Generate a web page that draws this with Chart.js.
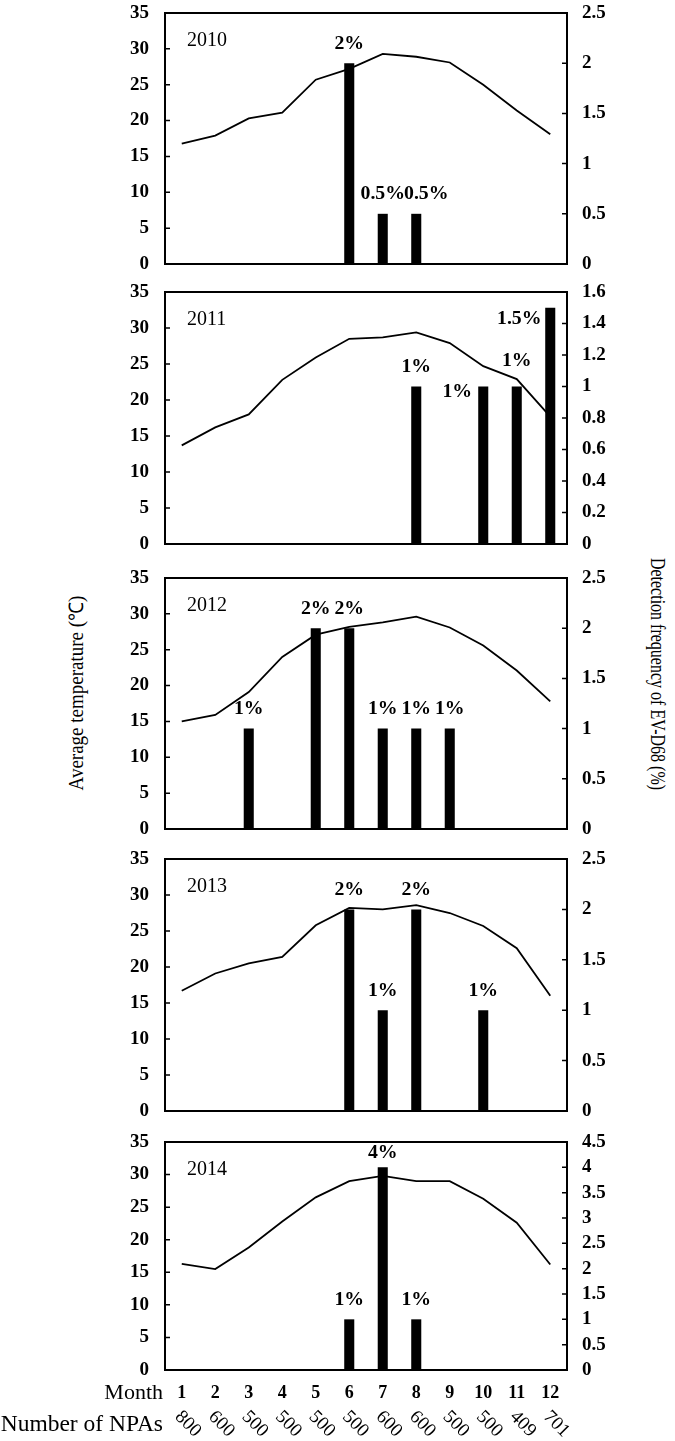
<!DOCTYPE html>
<html>
<head>
<meta charset="utf-8">
<script src="https://cdn.jsdelivr.net/npm/chart.js@4.4.0/dist/chart.umd.min.js"></script>
<style>
  html,body{margin:0;padding:0;background:#fff;}
  #wrap{position:relative;width:675px;height:1441px;background:#fff;overflow:hidden;}
  canvas{position:absolute;left:0;}
  .yt{position:absolute;white-space:nowrap;font-family:"Liberation Serif","Times New Roman",serif;font-size:20px;color:#000;}
</style>
</head>
<body>
<div id="wrap">
  <div class="yt" id="tl" style="left:75px;top:693px;transform:translate(-50%,-50%) rotate(-90deg) scaleX(0.95);">Average temperature (℃)</div>
  <div class="yt" id="tr" style="left:657px;top:674px;transform:translate(-50%,-50%) rotate(90deg) scaleX(0.8);">Detection frequency of EV-D68 (%)</div>
</div>
<script>
// ---------------- data ----------------
const months = ['1','2','3','4','5','6','7','8','9','10','11','12'];
const npas = ['800','600','500','500','500','500','600','600','500','500','409','701'];
const years = ['2010','2011','2012','2013','2014'];
const temp2010 = [16.8,17.9,20.3,21.1,25.7,27.2,29.3,28.9,28.1,25.0,21.4,18.1];
const temp2011 = [13.7,16.2,18.0,22.8,25.9,28.5,28.7,29.4,27.9,24.7,22.9,17.7];
const temp2012 = [15.0,15.9,19.1,24.0,27.1,28.2,28.8,29.6,28.1,25.6,22.1,17.8];
const temp2013 = [16.7,19.1,20.5,21.4,25.8,28.2,28.0,28.6,27.5,25.7,22.6,16.0];
const temp2014 = [16.3,15.5,18.8,22.8,26.5,29.0,29.8,29.0,29.0,26.3,22.6,16.2];
const det2010 = [null,null,null,null,null,2,0.5,0.5,null,null,null,null];
const det2011 = [null,null,null,null,null,null,null,1,null,1,1,1.5];
const det2012 = [null,null,1,null,2,2,1,1,1,null,null,null];
const det2013 = [null,null,null,null,null,2,1,2,null,1,null,null];
const det2014 = [null,null,null,null,null,1,4,1,null,null,null,null];
const tempMax = 35, tempStep = 5;
const detMax = [2.5,1.6,2.5,2.5,4.5];
const detStep = [0.5,0.2,0.5,0.5,0.5];

const temps = [temp2010,temp2011,temp2012,temp2013,temp2014];
const dets = [det2010,det2011,det2012,det2013,det2014];

// ---------------- layout (not data) ----------------
const plotTops = [13,292,578,859,1142];
const plotBottoms = [264,544,829,1111,1370];
const plotLeft = 165, plotRight = 567, W = 675, PAD = 32;
// label nudges [dx, dy] per panel, keyed by month index
const nudges = [{7:[10,0]}, {9:[-26,25],10:[0,-6],11:[-31,31]}, {}, {}, {6:[0,5]}];

const FONT = '"Liberation Serif","Times New Roman",serif';
Chart.defaults.font.family = FONT;
Chart.defaults.color = '#000';

function sText(ctx, s, x, y, sx){
  ctx.save(); ctx.translate(x, y); ctx.scale(sx, 1); ctx.fillText(s, 0, 0); ctx.restore();
}

const decor = {
  id:'decor',
  afterDatasetsDraw(chart, args, opts){
    const {ctx, chartArea:a, scales} = chart;
    ctx.save();
    ctx.strokeStyle = '#000';
    ctx.fillStyle = '#000';
    // inward ticks
    ctx.lineWidth = 1.5;
    ctx.beginPath();
    scales.y.ticks.forEach(t=>{const py=scales.y.getPixelForValue(t.value); ctx.moveTo(a.left,py); ctx.lineTo(a.left+5,py);});
    scales.y1.ticks.forEach(t=>{const py=scales.y1.getPixelForValue(t.value); ctx.moveTo(a.right-5,py); ctx.lineTo(a.right,py);});
    ctx.stroke();
    // frame
    ctx.lineWidth = 2;
    ctx.strokeRect(a.left, a.top, a.right-a.left, a.bottom-a.top);
    // year
    ctx.font = '20px ' + FONT;
    ctx.textAlign = 'left'; ctx.textBaseline = 'middle';
    ctx.fillText(opts.year, a.left+22, a.top+28);
    // percent labels
    ctx.font = 'bold 18px ' + FONT;
    ctx.textAlign = 'center';
    const meta = chart.getDatasetMeta(1);
    meta.data.forEach((bar,i)=>{
      const v = opts.det[i];
      if(v==null) return;
      const n = opts.nudge[i] || [0,0];
      sText(ctx, v + '%', bar.x + n[0], bar.y - 19 + n[1], 1.1);
    });
    if(opts.last){
      const xs = scales.x;
      ctx.font = 'bold 18px ' + FONT;
      ctx.textAlign = 'center'; ctx.textBaseline = 'middle';
      months.forEach((m,i)=>ctx.fillText(m, xs.getPixelForValue(i), a.bottom+23));
      ctx.font = '19px ' + FONT;
      ctx.textAlign = 'left';
      npas.forEach((s,i)=>{
        ctx.save();
        ctx.translate(xs.getPixelForValue(i)-4, a.bottom+44);
        ctx.rotate(Math.PI/4);
        ctx.fillText(s, 0, 0);
        ctx.restore();
      });
      ctx.textAlign = 'right';
      ctx.font = '22px ' + FONT;
      ctx.fillText('Month', a.left-2, a.bottom+23);
      ctx.font = '23.5px ' + FONT;
      ctx.fillText('Number of NPAs', a.left-2, a.bottom+55);
    }
    ctx.restore();
  }
};

const wrap = document.getElementById('wrap');
years.forEach((yr, p)=>{
  const last = p === years.length-1;
  const top = plotTops[p] - PAD;
  const bottomPad = last ? (1441 - plotBottoms[p]) : PAD;
  const h = (plotBottoms[p] - plotTops[p]) + PAD + bottomPad;
  const cv = document.createElement('canvas');
  cv.width = W; cv.height = h;
  cv.style.top = top + 'px';
  cv.style.width = W + 'px'; cv.style.height = h + 'px';
  wrap.appendChild(cv);
  new Chart(cv, {
    data:{
      labels: months,
      datasets:[
        {type:'line', data: temps[p], yAxisID:'y', borderColor:'#000', borderWidth:1.8, pointRadius:0, tension:0, fill:false, order:0},
        {type:'bar', data: dets[p], yAxisID:'y1', backgroundColor:'#000', borderWidth:0, barPercentage:0.3, categoryPercentage:1, order:1}
      ]
    },
    options:{
      responsive:false, animation:false,
      devicePixelRatio: 1,
      layout:{padding:{top:PAD, bottom:bottomPad, left:0, right:0}},
      plugins:{legend:{display:false}, tooltip:{enabled:false},
        decor:{year: yr, det: dets[p], nudge: nudges[p], last: last}},
      scales:{
        x:{display:false, offset:true, grid:{display:false}},
        y:{position:'left', min:0, max:tempMax,
           ticks:{stepSize:tempStep, autoSkip:false, padding:16, font:{size:19, weight:'bold'}, color:'#000'},
           grid:{display:false, drawTicks:false}, border:{display:false},
           afterFit(s){ s.width = plotLeft; }},
        y1:{position:'right', min:0, max:detMax[p],
           ticks:{stepSize:detStep[p], autoSkip:false, padding:15, font:{size:19, weight:'bold'}, color:'#000',
             callback:v=>String(Math.round(v*10)/10)},
           grid:{display:false, drawTicks:false}, border:{display:false},
           afterFit(s){ s.width = W - plotRight; }}
      }
    },
    plugins:[decor]
  });
});
</script>
</body>
</html>
